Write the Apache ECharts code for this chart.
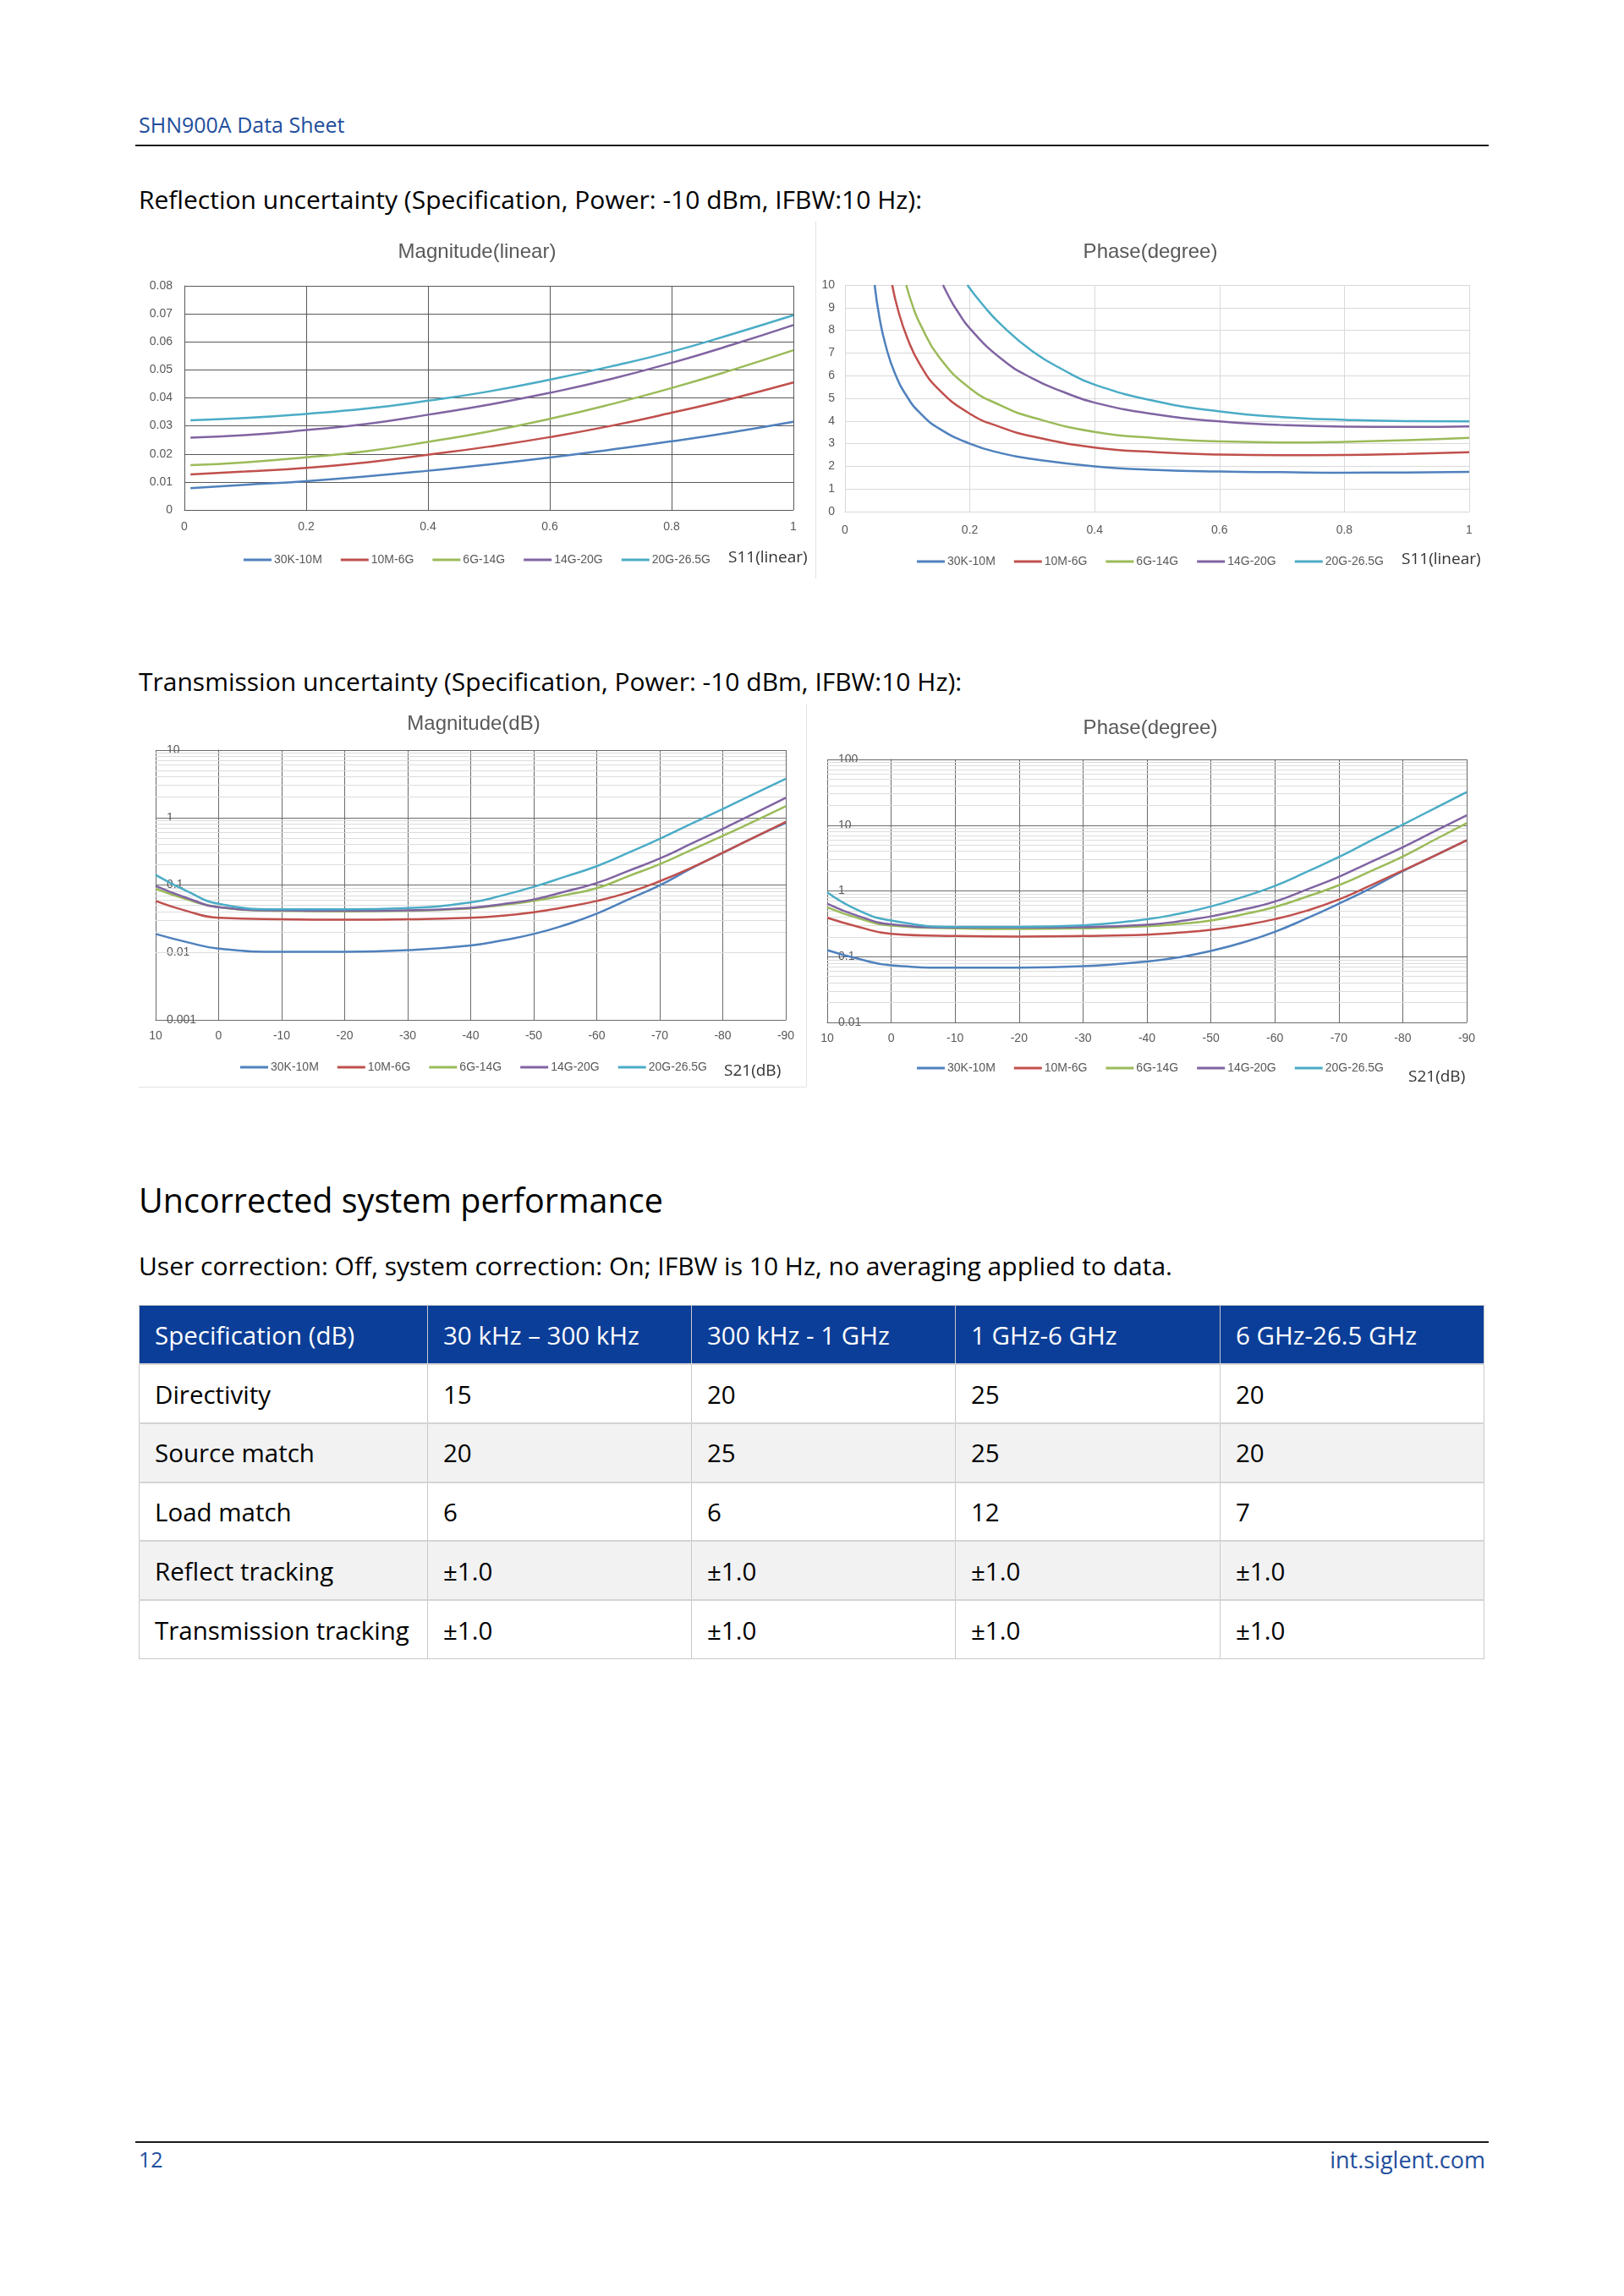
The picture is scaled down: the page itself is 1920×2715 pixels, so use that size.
<!DOCTYPE html>
<html><head><meta charset="utf-8">
<script src="https://cdn.jsdelivr.net/npm/echarts@6/dist/echarts.min.js"></script>
<style>
html,body{margin:0;padding:0;background:#fff;}
body{width:1920px;height:2715px;position:relative;font-family:'Open Sans','Noto Sans',sans-serif;overflow:hidden;color:#000;}
.t{position:absolute;white-space:nowrap;line-height:1;}
.rule{position:absolute;background:#1a1a1a;height:2px;}
.vline{position:absolute;background:#e3e3e3;width:1px;}
.hline{position:absolute;background:#e3e3e3;height:1px;}
.chart{position:absolute;}
table{position:absolute;left:164px;top:1543px;border-collapse:collapse;font-size:29.5px;table-layout:fixed;width:1590px;}
td,th{height:69.7px;padding:0 0 0 18px;text-align:left;font-weight:normal;border:1px solid #c9c9c9;box-sizing:border-box;vertical-align:middle;}
th{background:#0b3e98;color:#fff;border-color:#c9c9c9;}
tr.g td{background:#f2f2f2;}
tbody tr td{border-top:2px solid #d4d4d4;}
</style>
</head>
<body>
<div class="t" style="left:164px;top:135px;font-size:25px;color:#1f4e9c;">SHN900A Data Sheet</div>
<div class="rule" style="left:160px;top:171px;width:1600px;"></div>
<div class="t" style="left:164px;top:221px;font-size:30px;">Reflection uncertainty (Specification, Power: -10 dBm, IFBW:10 Hz):</div>
<div class="vline" style="left:964px;top:262px;height:422px;"></div>
<div id="c1" class="chart" style="left:164px;top:260px;width:800px;height:430px;"></div>
<div id="c2" class="chart" style="left:960px;top:260px;width:800px;height:430px;"></div>
<div class="t" style="left:164px;top:791px;font-size:30px;">Transmission uncertainty (Specification, Power: -10 dBm, IFBW:10 Hz):</div>
<div id="c3" class="chart" style="left:160px;top:820px;width:800px;height:470px;"></div>
<div id="c4" class="chart" style="left:960px;top:820px;width:800px;height:470px;"></div>
<div class="vline" style="left:953px;top:832px;height:453px;"></div>
<div class="hline" style="left:164px;top:1285px;width:789px;"></div>
<div class="t" style="left:164px;top:1400px;font-size:39.5px;">Uncorrected system performance</div>
<div class="t" style="left:164px;top:1482px;font-size:30px;">User correction: Off, system correction: On; IFBW is 10 Hz, no averaging applied to data.</div>
<table id="tbl">
<colgroup><col style="width:341px"><col style="width:312px"><col style="width:312px"><col style="width:313px"><col style="width:312px"></colgroup>
<thead><tr id="thead"></tr></thead>
<tbody id="tbody"></tbody>
</table>
<div class="rule" style="left:160px;top:2532px;width:1600px;"></div>
<div class="t" style="left:164px;top:2541px;font-size:25px;color:#1f4e9c;">12</div>
<div class="t" style="right:164px;top:2540px;font-size:27px;color:#1f4e9c;">int.siglent.com</div>
<script>
// ---------- shared ----------
const seriesNames = ['30K-10M','10M-6G','6G-14G','14G-20G','20G-26.5G'];
const seriesColors = ['#4F81BD','#C0504D','#9BBB59','#8064A2','#4BACC6'];

// ---------- Chart 1: Reflection magnitude (linear) ----------
const reflMagX = [0.01,0.1,0.2,0.3,0.4,0.5,0.6,0.7,0.8,0.9,1.0];
const reflMag_30K10M  = [0.0078,0.0090,0.0103,0.0120,0.0140,0.0162,0.0187,0.0215,0.0245,0.0278,0.0315];
const reflMag_10M6G   = [0.0127,0.0137,0.0150,0.0170,0.0197,0.0226,0.0260,0.0300,0.0347,0.0398,0.0455];
const reflMag_6G14G   = [0.0160,0.0170,0.0188,0.0210,0.0243,0.0280,0.0325,0.0377,0.0435,0.0500,0.0570];
const reflMag_14G20G  = [0.0258,0.0267,0.0285,0.0307,0.0340,0.0376,0.0418,0.0467,0.0525,0.0590,0.0660];
const reflMag_20G265G = [0.0320,0.0328,0.0343,0.0362,0.0390,0.0423,0.0465,0.0512,0.0565,0.0628,0.0695];

// ---------- Chart 2: Reflection phase (degree) ----------
const reflPhX_30K10M  = [0.0475,0.055,0.065,0.08,0.1,0.12,0.15,0.2,0.25,0.3,0.4,0.5,0.6,0.7,0.8,0.9,1.0];
const reflPh_30K10M   = [10,8.6,7.35,6.1,5.05,4.36,3.68,3.0,2.58,2.32,2.0,1.84,1.77,1.74,1.72,1.73,1.75];
const reflPhX_10M6G   = [0.0756,0.085,0.1,0.12,0.15,0.2,0.25,0.3,0.4,0.5,0.6,0.7,0.8,0.9,1.0];
const reflPh_10M6G    = [10,8.9,7.65,6.5,5.4,4.32,3.72,3.32,2.83,2.62,2.52,2.49,2.50,2.55,2.62];
const reflPhX_6G14G   = [0.098,0.11,0.12,0.15,0.2,0.25,0.3,0.4,0.5,0.6,0.7,0.8,0.9,1.0];
const reflPh_6G14G    = [10,8.95,8.3,6.85,5.45,4.68,4.16,3.52,3.24,3.10,3.05,3.08,3.15,3.26];
const reflPhX_14G20G  = [0.157,0.17,0.18,0.2,0.25,0.3,0.35,0.4,0.5,0.6,0.7,0.8,0.9,1.0];
const reflPh_14G20G   = [10,9.3,8.85,8.08,6.75,5.88,5.28,4.81,4.28,3.98,3.82,3.75,3.74,3.76];
const reflPhX_20G265G = [0.196,0.22,0.25,0.3,0.35,0.4,0.5,0.6,0.7,0.8,0.9,1.0];
const reflPh_20G265G  = [10,9.15,8.25,7.08,6.25,5.6,4.86,4.42,4.17,4.05,3.99,3.98];

// ---------- Chart 3: Transmission magnitude (dB, log) ----------
const transX = [10,5,0,-10,-20,-30,-40,-45,-50,-55,-60,-65,-70,-75,-80,-85,-90];
const transMag_30K10M  = [0.0188,0.0142,0.0114,0.0102,0.0102,0.0108,0.0127,0.0151,0.0188,0.0256,0.0376,0.061,0.099,0.176,0.30,0.51,0.83];
const transMag_10M6G   = [0.058,0.041,0.0326,0.031,0.0306,0.031,0.0326,0.035,0.0395,0.047,0.058,0.0775,0.114,0.18,0.30,0.51,0.865];
const transMag_6G14G   = [0.088,0.061,0.047,0.0414,0.0406,0.0414,0.045,0.0505,0.058,0.071,0.0897,0.135,0.204,0.33,0.534,0.88,1.47];
const transMag_14G20G  = [0.097,0.064,0.047,0.042,0.0414,0.042,0.046,0.052,0.061,0.080,0.107,0.162,0.247,0.41,0.68,1.15,1.96];
const transMag_20G265G = [0.141,0.081,0.0527,0.0435,0.0435,0.0456,0.0552,0.070,0.094,0.133,0.19,0.30,0.485,0.81,1.34,2.25,3.75];

// ---------- Chart 4: Transmission phase (degree, log) ----------
const transPh_30K10M  = [0.126,0.092,0.074,0.068,0.068,0.0716,0.0845,0.098,0.122,0.164,0.239,0.383,0.64,1.1,2.0,3.44,5.9];
const transPh_10M6G   = [0.39,0.282,0.223,0.206,0.202,0.206,0.216,0.232,0.256,0.30,0.372,0.50,0.74,1.22,2.04,3.44,5.9];
const transPh_6G14G   = [0.564,0.38,0.297,0.27,0.263,0.27,0.29,0.315,0.354,0.44,0.569,0.82,1.22,2.0,3.34,6.0,10.7];
const transPh_14G20G  = [0.64,0.41,0.31,0.277,0.277,0.282,0.306,0.345,0.41,0.52,0.687,1.05,1.64,2.75,4.63,8.1,14.1];
const transPh_20G265G = [0.95,0.5,0.354,0.285,0.285,0.30,0.372,0.45,0.58,0.81,1.19,1.95,3.27,5.8,10.2,18.0,31.8];

// minor log grid multipliers
const minorMultipliers = [2,3,4,5,6,7,8,9];

// ---------- Table ----------
const tableHeader = ['Specification (dB)','30 kHz \u2013 300 kHz','300 kHz - 1 GHz','1 GHz-6 GHz','6 GHz-26.5 GHz'];
const tableRows = [
  ['Directivity','15','20','25','20'],
  ['Source match','20','25','25','20'],
  ['Load match','6','6','12','7'],
  ['Reflect tracking','\u00b11.0','\u00b11.0','\u00b11.0','\u00b11.0'],
  ['Transmission tracking','\u00b11.0','\u00b11.0','\u00b11.0','\u00b11.0']
];

const thead = document.getElementById('thead');
tableHeader.forEach(h => { const th = document.createElement('th'); th.textContent = h; thead.appendChild(th); });
const tbody = document.getElementById('tbody');
tableRows.forEach((r, i) => {
  const tr = document.createElement('tr');
  if (i % 2 === 1) tr.className = 'g';
  r.forEach(c => { const td = document.createElement('td'); td.textContent = c; tr.appendChild(td); });
  tbody.appendChild(tr);
});

// ---------- chart helpers ----------
const chartFont = "'Liberation Sans', Arial, sans-serif";
const labelColor = '#595959';

function zip(xs, ys) { return xs.map((x, i) => [x, ys[i]]); }

function lineSeries(name, color, data) {
  return {
    name, type: 'line', data, smooth: true, showSymbol: false, symbol: 'none',
    lineStyle: { color, width: 2.5 }, itemStyle: { color }, z: 5, clip: true
  };
}

function legendCfg(top) {
  return {
    data: seriesNames, top, left: 'center', icon: 'rect', itemWidth: 33, itemHeight: 3, itemGap: 22,
    textStyle: { color: labelColor, fontSize: 14, fontFamily: chartFont, padding: [0, 0, 0, -2] }
  };
}

function titleCfg(text, top) {
  return { text, left: 'center', top, textStyle: { color: labelColor, fontSize: 24, fontWeight: 'normal', fontFamily: chartFont } };
}

function axisNameGraphic(text, left, top) {
  return [{ type: 'text', left, top, style: { text, fill: '#333', font: "19px 'Open Sans', sans-serif" } }];
}

function minorMarkSeries(decades, color) {
  const vals = [];
  decades.forEach(d => minorMultipliers.forEach(m => vals.push(+(d * m).toPrecision(6))));
  return {
    type: 'line', data: [], z: 1, silent: true,
    markLine: { silent: true, symbol: ['none', 'none'], label: { show: false }, animation: false,
      lineStyle: { color, type: 'solid', width: 1 }, data: vals.map(v => ({ yAxis: v })) }
  };
}

// ---------- Chart 1 ----------
const c1 = echarts.init(document.getElementById('c1'));
c1.setOption({
  animation: false,
  title: titleCfg('Magnitude(linear)', 21),
  grid: { left: 54, top: 78, width: 720, height: 265 },
  xAxis: { type: 'value', min: 0, max: 1, interval: 0.2,
    axisLine: { show: true, lineStyle: { color: '#595959' } }, axisTick: { show: false },
    splitLine: { show: true, lineStyle: { color: '#595959', width: 1 } },
    axisLabel: { color: labelColor, fontSize: 14, fontFamily: chartFont, margin: 13 } },
  yAxis: { type: 'value', min: 0, max: 0.08, interval: 0.01,
    axisLine: { show: true, lineStyle: { color: '#595959' } }, axisTick: { show: false },
    splitLine: { show: true, lineStyle: { color: '#595959', width: 1 } },
    axisLabel: { color: labelColor, fontSize: 14, fontFamily: chartFont, margin: 14 } },
  legend: legendCfg(390),
  graphic: axisNameGraphic('S11(linear)', 697, 390),
  series: [
    lineSeries(seriesNames[0], seriesColors[0], zip(reflMagX, reflMag_30K10M)),
    lineSeries(seriesNames[1], seriesColors[1], zip(reflMagX, reflMag_10M6G)),
    lineSeries(seriesNames[2], seriesColors[2], zip(reflMagX, reflMag_6G14G)),
    lineSeries(seriesNames[3], seriesColors[3], zip(reflMagX, reflMag_14G20G)),
    lineSeries(seriesNames[4], seriesColors[4], zip(reflMagX, reflMag_20G265G))
  ]
});

// ---------- Chart 2 ----------
const c2 = echarts.init(document.getElementById('c2'));
c2.setOption({
  animation: false,
  title: titleCfg('Phase(degree)', 21),
  grid: { left: 39, top: 77, width: 738, height: 268 },
  xAxis: { type: 'value', min: 0, max: 1, interval: 0.2,
    axisLine: { show: true, lineStyle: { color: '#d9d9d9' } }, axisTick: { show: false },
    splitLine: { show: true, lineStyle: { color: '#d9d9d9', width: 1 } },
    axisLabel: { color: labelColor, fontSize: 14, fontFamily: chartFont, margin: 15 } },
  yAxis: { type: 'value', min: 0, max: 10, interval: 1,
    axisLine: { show: true, lineStyle: { color: '#d9d9d9' } }, axisTick: { show: false },
    splitLine: { show: true, lineStyle: { color: '#d9d9d9', width: 1 } },
    axisLabel: { color: labelColor, fontSize: 14, fontFamily: chartFont, margin: 12 } },
  legend: legendCfg(392),
  graphic: axisNameGraphic('S11(linear)', 697, 392),
  series: [
    lineSeries(seriesNames[0], seriesColors[0], zip(reflPhX_30K10M, reflPh_30K10M)),
    lineSeries(seriesNames[1], seriesColors[1], zip(reflPhX_10M6G, reflPh_10M6G)),
    lineSeries(seriesNames[2], seriesColors[2], zip(reflPhX_6G14G, reflPh_6G14G)),
    lineSeries(seriesNames[3], seriesColors[3], zip(reflPhX_14G20G, reflPh_14G20G)),
    lineSeries(seriesNames[4], seriesColors[4], zip(reflPhX_20G265G, reflPh_20G265G))
  ]
});

// ---------- log charts ----------
function logChart(el, title, titleTop, grid, yMin, yMax, decades, legendTop, nameLeft, nameTop, sets) {
  const c = echarts.init(document.getElementById(el));
  c.setOption({
    animation: false,
    title: titleCfg(title, titleTop),
    grid,
    xAxis: { type: 'value', min: -90, max: 10, interval: 10, inverse: true,
      axisLine: { show: true, lineStyle: { color: '#6b6b6b' } }, axisTick: { show: false },
      splitLine: { show: true, lineStyle: { color: '#6b6b6b', width: 1 } },
      axisLabel: { color: labelColor, fontSize: 14, fontFamily: chartFont, margin: 12 } },
    yAxis: { type: 'log', logBase: 10, min: yMin, max: yMax,
      axisLine: { show: true, lineStyle: { color: '#6b6b6b' } }, axisTick: { show: false },
      splitLine: { show: true, lineStyle: { color: '#6b6b6b', width: 1 } },
      axisLabel: { inside: true, color: labelColor, fontSize: 14, fontFamily: chartFont, margin: 13 } },
    legend: legendCfg(legendTop),
    graphic: axisNameGraphic('S21(dB)', nameLeft, nameTop),
    series: [minorMarkSeries(decades, '#dcdcdc')].concat(
      sets.map((d, i) => lineSeries(seriesNames[i], seriesColors[i], zip(transX, d))))
  });
}

logChart('c3', 'Magnitude(dB)', 19, { left: 24, top: 67, width: 745, height: 319 }, 0.001, 10,
  [0.001, 0.01, 0.1, 1], 430, 696, 437,
  [transMag_30K10M, transMag_10M6G, transMag_6G14G, transMag_14G20G, transMag_20G265G]);

logChart('c4', 'Phase(degree)', 24, { left: 18, top: 78, width: 756, height: 311 }, 0.01, 100,
  [0.01, 0.1, 1, 10], 431, 705, 444,
  [transPh_30K10M, transPh_10M6G, transPh_6G14G, transPh_14G20G, transPh_20G265G]);
</script>
</body></html>
